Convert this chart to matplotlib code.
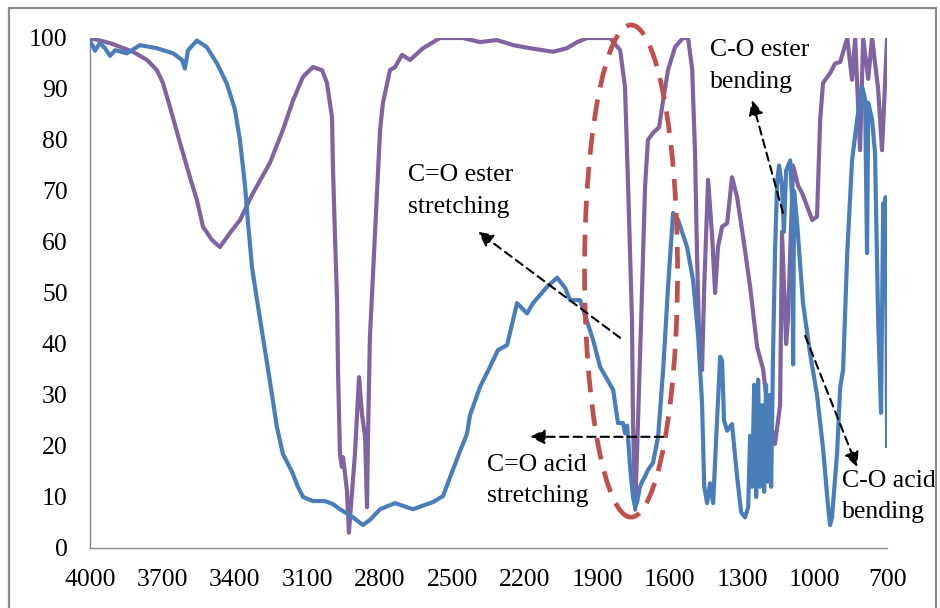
import matplotlib
matplotlib.use("Agg")
import matplotlib.pyplot as plt
from matplotlib.patches import Ellipse, Rectangle

plt.rcParams['font.family'] = ['Liberation Serif', 'DejaVu Serif']

# wavenumber (cm-1) and transmittance (%)
blue_wn = [4000, 3979, 3959, 3938, 3917, 3896, 3847, 3793, 3723, 3656,
           3619, 3607, 3594, 3557, 3516, 3474, 3433, 3400, 3379, 3358,
           3346, 3329, 3308, 3284, 3255, 3226, 3201, 3164, 3139, 3118,
           3077, 3027, 2994, 2965, 2911, 2870, 2841, 2799, 2737, 2663,
           2580, 2538, 2509, 2468, 2439, 2427, 2385, 2344, 2311, 2273,
           2232, 2190, 2166, 2108, 2066, 2033, 2012, 1971, 1917, 1888,
           1834, 1814, 1793, 1785, 1776, 1764, 1752, 1743, 1735, 1723,
           1714, 1702, 1690, 1669, 1648, 1627, 1607, 1586, 1565, 1528,
           1503, 1482, 1466, 1457, 1445, 1433, 1420, 1404, 1391, 1383,
           1375, 1362, 1342, 1321, 1304, 1288, 1275, 1267, 1259, 1250,
           1242, 1234, 1226, 1217, 1209, 1201, 1193, 1185, 1180, 1172,
           1164, 1155, 1147, 1135, 1127, 1118, 1101, 1093, 1089, 1085,
           1073, 1048, 1019, 990, 965, 944, 936, 928, 907, 894,
           882, 865, 845, 824, 803, 791, 783, 778, 762, 750,
           737, 725, 716, 712, 706, 702, 700]
blue_t = [99.5, 97.5, 99, 98, 96.5, 97.6, 97, 98.6, 98, 97,
          95.7, 94, 97.6, 99.5, 98.2, 95, 91, 86, 80, 71,
          64, 55, 48.5, 41.4, 32.7, 23.7, 18.4, 15, 12, 10,
          9.2, 9.2, 8.6, 7.6, 6, 4.5, 5.5, 7.6, 8.8, 7.6,
          9, 10.2, 13.9, 19, 22.4, 26, 31.6, 35.5, 38.8, 39.8,
          48, 46, 48, 51.2, 53, 51, 48.6, 48.6, 40.8, 35.5,
          31, 24.5, 24.5, 22.5, 24, 16, 10, 8, 9, 12,
          13, 14, 15.3, 16.7, 21.8, 35, 51, 65.7, 64.3, 59,
          52.5, 41.4, 28.4, 12, 8.8, 12.7, 8.8, 25, 37.5, 36.7,
          25, 23, 24.3, 14, 7, 6, 8, 22, 12, 32,
          10, 33, 12, 28, 11, 32, 13, 30, 12, 38,
          58, 72, 75, 71, 62, 74, 76, 68, 36, 70,
          64, 48, 38.2, 30, 19.5, 8, 4.5, 6, 18.6, 31.6,
          35, 57.8, 76, 84, 90.4, 88, 57.8, 87.3, 84, 77.5,
          44.7, 26.5, 67.6, 66, 68.8, 45, 20]

purple_wn = [4000, 3917, 3822, 3764, 3723, 3698, 3669, 3627, 3586, 3557,
             3532, 3495, 3462, 3420, 3379, 3325, 3255, 3201, 3159, 3118,
             3077, 3039, 3019, 2998, 2994, 2986, 2977, 2973, 2965, 2957,
             2952, 2936, 2928, 2903, 2886, 2874, 2861, 2853, 2849, 2841,
             2832, 2799, 2787, 2758, 2737, 2708, 2675, 2621, 2551, 2456,
             2385, 2315, 2248, 2178, 2083, 2025, 1983, 1942, 1847, 1805,
             1785, 1772, 1756, 1752, 1743, 1731, 1714, 1702, 1690, 1669,
             1644, 1627, 1607, 1578, 1545, 1524, 1507, 1495, 1487, 1478,
             1466, 1457, 1441, 1424, 1412, 1400, 1383, 1362, 1342, 1321,
             1296, 1267, 1238, 1213, 1197, 1176, 1164, 1143, 1135, 1118,
             1110, 1089, 1068, 1052, 1031, 1010, 990, 977, 965, 936,
             915, 894, 865, 845, 832, 812, 799, 778, 762, 737,
             721, 700]
purple_t = [100, 99, 97.3, 95.7, 93.7, 91.2, 86.5, 79.4, 72.7, 68.2,
            63, 60.4, 59, 61.8, 64.3, 69.6, 75.5, 82, 87.8, 92.4,
            94.3, 93.7, 91.2, 84.5, 74.7, 61.8, 48.6, 34.7, 18.4, 15.9,
            17.8, 11.2, 3, 18.4, 33.5, 26.3, 21.8, 8, 21.8, 41.4,
            50, 82, 87.3, 93.7, 94.3, 96.7, 95.7, 98, 100, 100,
            99.2, 99.6, 98.6, 98, 97.3, 98, 99.2, 100, 100, 97.6,
            90.4, 70.8, 44.7, 25, 7.5, 25, 51.2, 70.8, 80, 81.4,
            82.5, 87.8, 93.7, 98.2, 100, 100, 94, 77.5, 57.8, 41.4,
            34.9, 51.2, 72.2, 61, 50, 59, 63, 63.7, 72.7, 68.8,
            61, 51.2, 39.4, 35, 28.4, 23, 20.4, 28, 62, 40,
            45, 75, 71, 69.6, 67, 64.3, 65, 84, 91.2, 93.1,
            95, 95.3, 100, 91.8, 100, 78, 100, 92, 100, 90,
            78, 100]

x_ticks = [4000, 3700, 3400, 3100, 2800, 2500, 2200, 1900, 1600, 1300, 1000, 700]
y_ticks = [0, 10, 20, 30, 40, 50, 60, 70, 80, 90, 100]

fig = plt.figure(figsize=(9.4, 6.08), dpi=100)
ax = fig.add_axes([0.0957, 0.0987, 0.848, 0.8388])

ax.plot(purple_wn, purple_t, color='#8064A2', lw=3.0, solid_joinstyle='round', zorder=2)
ax.plot(blue_wn, blue_t, color='#4A7EBB', lw=3.0, solid_joinstyle='round', zorder=3)

ax.set_xlim(4000, 700)
ax.set_ylim(0, 100)
ax.set_xticks(x_ticks)
ax.set_yticks(y_ticks)
ax.tick_params(length=0, labelsize=18.5)
ax.tick_params(axis='y', pad=16)
ax.tick_params(axis='x', pad=15)
for s in ['top', 'right']:
    ax.spines[s].set_visible(False)
for s in ['left', 'bottom']:
    ax.spines[s].set_color('#868686')
    ax.spines[s].set_linewidth(1.0)

# red dashed ellipse around the carbonyl region
ell = Ellipse((1760, 54.3), width=385, height=96.5, fill=False,
              edgecolor='#C0504D', lw=3.4, linestyle=(0, (4.6, 2.6)),
              clip_on=False, zorder=4)
ax.add_patch(ell)

arrow = dict(arrowstyle='-|>', linestyle=(0, (4, 2.5)), lw=1.5,
             color='black', mutation_scale=22, shrinkA=0, shrinkB=0)
fs = 18.5
ax.annotate('', xy=(2393, 62), xytext=(1805, 41.2), arrowprops=arrow, zorder=5)
ax.text(2683, 73.1, 'C=O ester', fontsize=fs, va='center', ha='left')
ax.text(2683, 66.9, 'stretching', fontsize=fs, va='center', ha='left')

ax.annotate('', xy=(2178, 21.8), xytext=(1627, 21.8), arrowprops=arrow, zorder=5)
ax.text(2356, 16.3, 'C=O acid', fontsize=fs, va='center', ha='left')
ax.text(2356, 10.2, 'stretching', fontsize=fs, va='center', ha='left')

ax.annotate('', xy=(1259, 87.8), xytext=(1131, 65.7), arrowprops=arrow, zorder=5)
ax.text(1433, 97.6, 'C-O ester', fontsize=fs, va='center', ha='left')
ax.text(1433, 91.4, 'bending', fontsize=fs, va='center', ha='left')

ax.annotate('', xy=(824, 15.9), xytext=(1039, 41.6), arrowprops=arrow, zorder=5)
ax.text(886, 13.1, 'C-O acid', fontsize=fs, va='center', ha='left', clip_on=False)
ax.text(886, 7.0, 'bending', fontsize=fs, va='center', ha='left', clip_on=False)

# outer chart border (bottom edge runs off the image)
fig.patches.append(Rectangle((8.5 / 940, -0.05), 927 / 940, 1.05 - 8.5 / 608,
                             transform=fig.transFigure, fill=False,
                             edgecolor='#8C8C8C', lw=1.6))

fig.savefig('out.png', dpi=100)
